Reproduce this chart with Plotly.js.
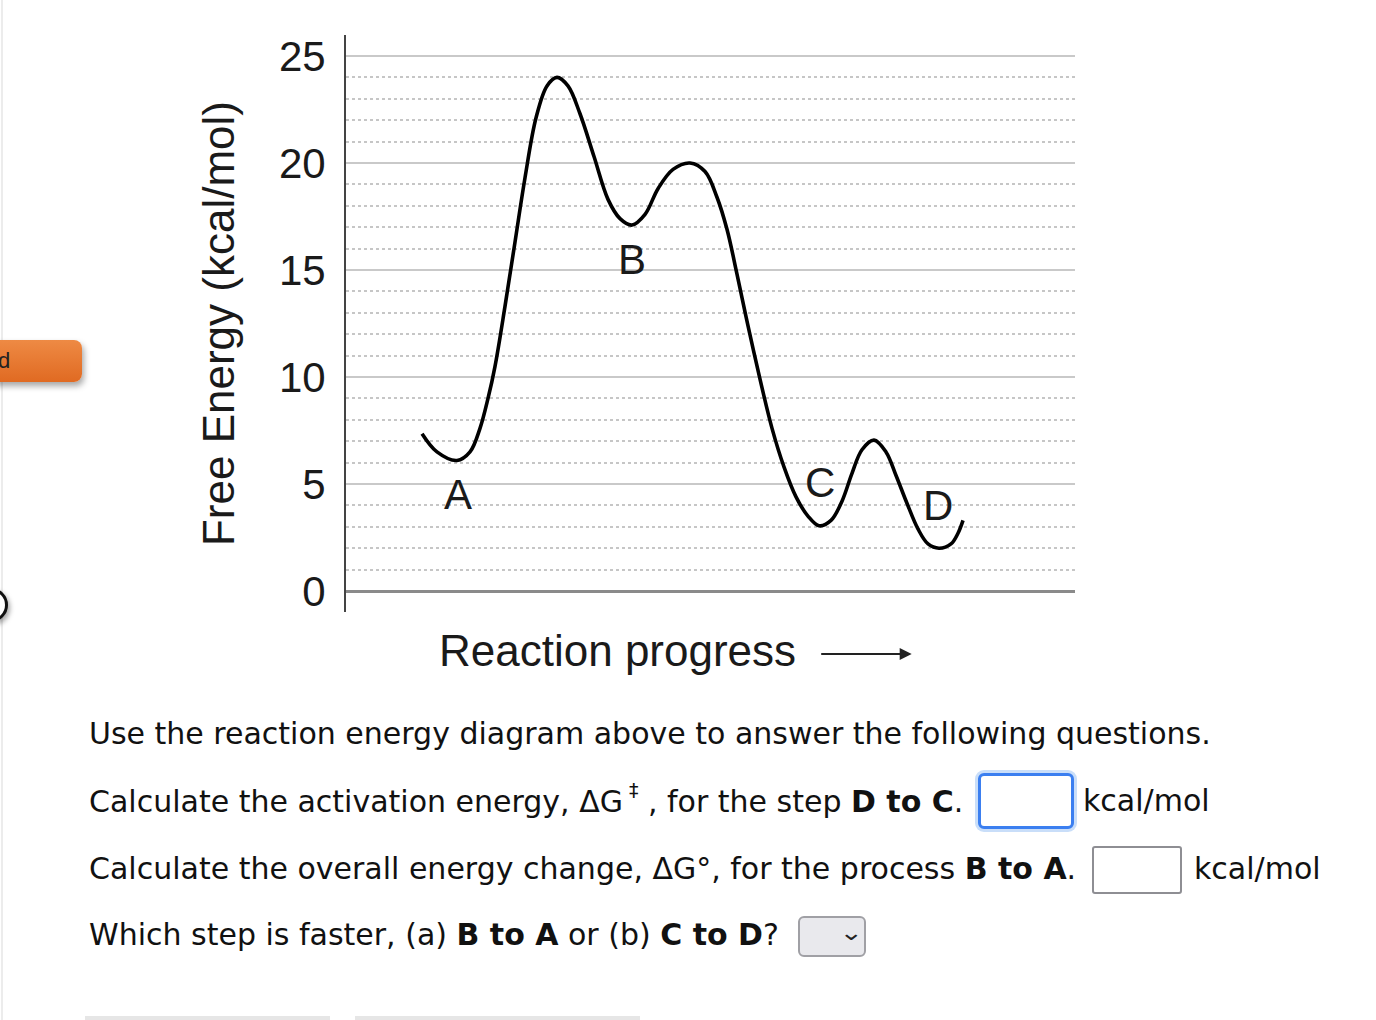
<!DOCTYPE html>
<html>
<head>
<meta charset="utf-8">
<script src="https://cdn.plot.ly/plotly-3.0.1.min.js"></script>
<style>
  html, body { margin: 0; padding: 0; background: #fff; }
  body { width: 1376px; height: 1020px; position: relative; overflow: hidden; font-family: "DejaVu Sans", Verdana, sans-serif; color: #111; }
  #chart { position: absolute; left: 0; top: 0; width: 1376px; height: 700px; z-index: 1; }
  .leftrule { position: absolute; left: 1px; top: 0; width: 2px; height: 1020px; background: #ececec; z-index: 5; }
  .orange { position: absolute; left: -20px; top: 340px; width: 102px; height: 42px; border-radius: 8px; z-index: 10;
            background: linear-gradient(#ee8a44, #e06a22); box-shadow: 2px 4px 6px rgba(0,0,0,0.35);
            font-family: "Liberation Sans", Arial, sans-serif; font-size: 22px; line-height: 42px; color: #222; }
  .orange span { position: absolute; left: 18px; top: 0px; }
  .ring { position: absolute; left: -26px; top: 588px; width: 28px; height: 28px; border-radius: 50%; z-index: 10;
          border: 3px solid #111; box-shadow: 2px 3px 5px rgba(0,0,0,0.35); background:#fff; }
  .q { position: absolute; left: 89px; font-size: 30px; white-space: nowrap; z-index: 2; }
  .box1 { position: absolute; left: 978px; top: 773px; width: 96px; height: 56px; box-sizing: border-box; border: 3px solid #3b7ff0; border-radius: 6px;
          box-shadow: 0 0 0 3px #c9def9; background:#fff; z-index: 2; }
  .box2 { position: absolute; left: 1092px; top: 846px; width: 90px; height: 48px; box-sizing: border-box; border: 2px solid #8e8e93; border-radius: 3px; background:#fff; z-index: 2; }
  .sel { position: absolute; left: 798px; top: 916px; width: 68px; height: 41px; box-sizing: border-box; border: 2px solid #a0a0a5;
         border-radius: 6px; background: #e9e9ed; z-index: 2; }
  .sel span { position: absolute; left: 42px; top: 2px; font-size: 22px; color: #222; transform: scaleX(1.3); }
  .unit { position: absolute; font-size: 30px; z-index: 2; }
  .bar { position: absolute; top: 1016px; height: 4px; background: #e6e6e6; }
</style>
</head>
<body>
<div id="chart"></div>
<div class="leftrule"></div>
<div class="orange"><span>d</span></div>
<div class="ring"></div>

<div class="q" style="top:716px;">Use the reaction energy diagram above to answer the following questions.</div>
<div class="q" style="top:783px;">Calculate the activation energy, ΔG<sup style="font-size:19px;position:relative;top:-4px;margin-left:6px;">‡</sup>&nbsp;, for the step <b>D to C</b>.</div>
<div class="box1"></div>
<div class="unit" style="left:1083px; top:783px;">kcal/mol</div>
<div class="q" style="top:851px;">Calculate the overall energy change, ΔG°, for the process <b>B to A</b>.</div>
<div class="box2"></div>
<div class="unit" style="left:1194px; top:851px;">kcal/mol</div>
<div class="q" style="top:917px;">Which step is faster, (a) <b>B to A</b> or (b) <b>C to D</b>?</div>
<div class="sel"><span>&#8964;</span></div>
<div class="bar" style="left:85px; width:245px;"></div>
<div class="bar" style="left:355px; width:285px;"></div>

<script>
// Reaction coordinate (arbitrary units, 0-100) and free energy (kcal/mol)
const progress = [10.43, 12.48, 15.23, 17.01, 18.38, 19.48, 20.44, 21.81, 23.18, 24.55, 26.06, 27.57, 28.94, 30.45,
                  32.10, 34.02, 35.94, 37.59, 39.23, 41.02, 42.80, 44.86, 47.19, 49.25, 50.89, 52.26, 53.64,
                  55.14, 56.79, 58.44, 60.08, 61.73, 63.37, 64.88, 66.53, 68.04, 69.41, 70.78, 72.43, 74.07,
                  75.45, 76.95, 78.46, 79.84, 81.34, 82.99, 83.95, 84.64];
const energy   = [7.35, 6.5, 6.1, 6.5, 7.6, 9.0, 10.5, 13.3, 16.3, 19.3, 22.1, 23.6, 24.0, 23.6,
                  22.3, 20.3, 18.3, 17.4, 17.1, 17.6, 18.8, 19.7, 20.0, 19.6, 18.4, 16.9, 14.8,
                  12.4, 9.9, 7.6, 5.8, 4.4, 3.5, 3.05, 3.3, 4.2, 5.5, 6.6, 7.05, 6.5,
                  5.4, 4.1, 2.9, 2.2, 2.0, 2.2, 2.7, 3.3];

const stateLabels = ['A', 'B', 'C', 'D'];
const labelX = [15.36, 39.23, 65.02, 81.21];
const labelY = [4.49, 15.5, 5.06, 3.98];

const yTicks = [0, 5, 10, 15, 20, 25];

const trace = {
  x: progress, y: energy, type: 'scatter', mode: 'lines',
  line: { color: '#000', width: 3.6, shape: 'spline', smoothing: 1 },
  hoverinfo: 'skip', showlegend: false
};

const annotations = stateLabels.map((t, i) => ({
  x: labelX[i], y: labelY[i], xref: 'x', yref: 'y', text: t, showarrow: false,
  font: { family: 'Liberation Sans, Arial, sans-serif', size: 42, color: '#1a1a1a' },
  xanchor: 'center', yanchor: 'middle'
}));

annotations.push({
  xref: 'paper', yref: 'paper', x: 0.373, y: -0.066, text: 'Reaction progress', showarrow: false,
  xanchor: 'center', yanchor: 'middle',
  font: { family: 'Liberation Sans, Arial, sans-serif', size: 44, color: '#1a1a1a' }
});
annotations.push({
  xref: 'paper', yref: 'paper', x: 0.776, y: -0.073, axref: 'pixel', ayref: 'pixel', ax: -92, ay: 0,
  text: '', showarrow: true, arrowhead: 2, arrowsize: 1.2, arrowwidth: 2, arrowcolor: '#222'
});

const layout = {
  width: 1376, height: 700,
  margin: { l: 346, r: 301, t: 35, b: 88 },
  paper_bgcolor: 'rgba(0,0,0,0)', plot_bgcolor: '#fff',
  showlegend: false,
  xaxis: { range: [0, 100], showgrid: false, zeroline: false, showticklabels: false, showline: false, ticks: '', fixedrange: true },
  yaxis: {
    range: [-0.98, 25.98], tickvals: yTicks, ticktext: yTicks.map(String),
    showgrid: true, gridcolor: '#c9c9c9', gridwidth: 2,
    minor: { dtick: 1, tick0: 0, showgrid: true, gridcolor: '#c6c6c6', griddash: 'dot', gridwidth: 2 },
    zeroline: true, zerolinecolor: '#8a8a8a', zerolinewidth: 3,
    showline: true, linecolor: '#444', linewidth: 2,
    ticks: '', ticklabelstandoff: 10,
    tickfont: { family: 'Liberation Sans, Arial, sans-serif', size: 42, color: '#1a1a1a' },
    title: { text: 'Free Energy (kcal/mol)', standoff: 30,
             font: { family: 'Liberation Sans, Arial, sans-serif', size: 44, color: '#1a1a1a' } },
    fixedrange: true
  },
  annotations: annotations
};

Plotly.newPlot('chart', [trace], layout, { displayModeBar: false, staticPlot: true });
</script>
</body>
</html>
